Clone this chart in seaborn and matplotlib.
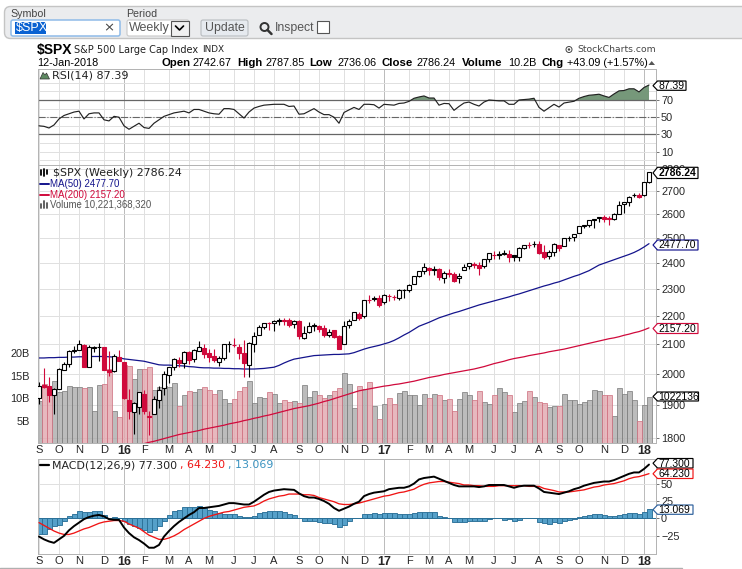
import numpy as np
import matplotlib
matplotlib.use("Agg")
import matplotlib.pyplot as plt
from matplotlib.patches import FancyBboxPatch, Rectangle, Polygon, Circle
from matplotlib.ticker import NullLocator, NullFormatter
import seaborn as sns

# weekly bars, 11-Sep-2015 to 12-Jan-2018
opens = [1921,1963,1961,1932,1950,2013,2033,2077,2080,2096,2024,2088,2090,2091,2013,2010,2057,
         2038,1916,1878,1894,1936,1864,1871,1917,1954,1996,2023,2047,2037,2073,2050,2078,2087,2071,2058,2041,2052,2100,2097,2091,2069,2030,
         2099,2131,2162,2173,2173,2183,2183,2187,2170,2181,2120,2143,2164,2164,2157,2133,2148,2128,2100,2168,2186,2206,2200,2258,2266,2266,
         2251,2273,2269,2267,2294,2295,2319,2350,2367,2381,2371,2378,2341,2362,2357,2342,2374,2388,2396,2393,2387,2414,2431,2434,2437,2437,
         2431,2424,2460,2473,2476,2478,2444,2428,2444,2474,2470,2502,2503,2521,2551,2555,2578,2583,2588,2584,2579,2603,2645,2652,2685,2684,
         2683,2742.67]
highs = [1975,2021,1989,1953,2021,2039,2079,2094,2116,2099,2097,2094,2104,2091,2076,2067,2081,
         2038,1950,1908,1940,1947,1881,1930,1962,2009,2024,2052,2056,2075,2076,2083,2111,2099,2083,2084,2058,2100,2110,2120,2100,2113,2108,
         2143,2169,2175,2177,2187,2193,2193,2193,2187,2187,2163,2179,2175,2169,2169,2153,2151,2131,2182,2189,2213,2214,2259,2277,2273,2278,
         2282,2279,2276,2300,2299,2319,2351,2367,2400,2383,2390,2382,2370,2378,2366,2361,2398,2400,2403,2405,2416,2440,2446,2446,2453,2450,
         2432,2463,2473,2484,2490,2490,2474,2454,2480,2474,2500,2508,2519,2552,2555,2575,2582,2588,2597,2593,2604,2657,2651,2679,2694,2692,
         2743,2787.85]
lows = [1903,1953,1908,1872,1950,2013,2022,2070,2080,2022,2024,2073,2042,2012,1993,2005,2043,
        1918,1857,1812,1872,1872,1810,1871,1891,1931,1969,2012,2022,2021,2033,2039,2078,2052,2039,2039,2025,2047,2074,2090,2050,1991,1991,
        2074,2131,2154,2148,2147,2169,2168,2160,2157,2119,2119,2139,2145,2142,2124,2125,2122,2083,2100,2156,2186,2187,2191,2248,2253,2233,
        2245,2254,2258,2257,2267,2289,2319,2344,2358,2354,2354,2335,2322,2344,2328,2322,2374,2378,2381,2353,2382,2405,2415,2415,2430,2405,
        2407,2407,2455,2459,2465,2437,2417,2417,2428,2446,2470,2488,2488,2521,2542,2547,2544,2566,2566,2557,2575,2600,2605,2637,2676,2673,
        2682,2736.06]
closes = [1961.05,1958.03,1931.34,1951.36,2014.89,2033.11,2075.15,2079.36,2099.20,2023.04,2089.17,2090.11,2091.69,2012.37,2005.55,2060.99,2043.94,
          1922.03,1880.33,1906.90,1940.24,1880.05,1864.78,1917.78,1948.05,1999.99,2022.19,2049.58,2035.94,2072.78,2047.60,2080.73,2091.58,2065.30,2057.14,2046.61,2052.32,2099.06,2099.13,2096.07,2071.22,2037.41,2102.95,
          2129.90,2161.74,2175.03,2173.60,2182.87,2184.05,2183.87,2169.04,2179.98,2127.81,2139.16,2164.69,2168.27,2153.74,2132.98,2141.16,2126.41,2085.18,2164.45,2181.90,2213.35,2191.95,2259.53,2258.07,2263.79,2238.83,
          2276.98,2274.64,2271.31,2294.69,2297.42,2316.10,2351.16,2367.34,2383.12,2372.60,2378.25,2343.98,2362.72,2355.54,2328.95,2348.69,2384.20,2399.29,2390.90,2381.73,2415.82,2439.07,2431.77,2433.15,2438.30,2423.41,
          2425.18,2459.27,2472.54,2472.10,2476.83,2441.32,2425.55,2443.05,2476.55,2461.43,2500.23,2502.22,2519.36,2549.33,2553.17,2575.21,2581.07,2587.84,2582.30,2578.85,2602.42,2642.22,2651.50,2675.81,2683.34,2673.61,
          2743.15,2786.24]
volume_b = [9.3,13.2,12.3,13.8,11.3,11.7,12.7,12.6,12.5,12.3,12.5,7.2,13.0,13.2,16.4,7.2,5.8,
            17.3,17.1,14.3,16.4,16.5,17.0,11.8,12.6,12.8,12.6,13.4,8.3,10.8,11.5,11.4,12.0,12.5,11.9,11.0,11.8,9.9,8.9,9.8,11.6,12.5,13.9,
            8.9,10.3,10.0,11.4,10.9,8.9,9.6,9.2,9.4,8.9,13.0,10.3,11.5,10.6,10.1,10.6,11.7,12.3,15.6,13.2,7.7,12.8,12.0,13.7,8.3,5.4,
            8.8,10.0,8.8,11.2,11.7,10.6,10.8,8.5,11.0,10.0,10.9,10.6,9.7,9.8,7.2,9.8,11.4,10.7,9.7,11.5,9.2,8.8,10.8,12.3,11.3,10.6,
            7.0,8.9,9.4,11.5,10.3,9.2,9.0,8.0,8.3,8.3,11.0,9.7,9.7,8.7,9.2,9.6,11.8,11.5,10.8,10.8,6.0,12.3,11.0,11.6,9.7,5.0,
            8.5,10.2]
ma50 = [2053,2053,2054,2054,2055,2055,2056,2056,2057,2057,2058,2058,2058,2058,2057,2056,2054,
        2050,2048,2046,2044,2042,2038,2034,2030,2029,2029,2028,2027,2026,2024,2023,2021,2020,2020,2019,2019,2018,2018,2017,2017,2016,2016,
        2016,2017,2018,2020,2022,2028,2036,2043,2049,2052,2055,2058,2061,2062,2063,2064,2065,2065,2066,2067,2071,2077,2083,2088,2092,2096,
        2101,2106,2113,2122,2132,2141,2152,2163,2170,2177,2185,2193,2199,2205,2211,2216,2222,2228,2234,2240,2245,2250,2255,2260,2265,2270,
        2276,2281,2287,2293,2299,2305,2311,2316,2322,2327,2334,2341,2348,2354,2362,2370,2381,2392,2399,2406,2413,2420,2427,2434,2442,2452,
        2464,2477.7]
ma200 = [np.nan]*21 + [1783,1787,1790,1794,1798,1802,1806,1810,1813,1816,1819,1822,1826,1829,1832,1835,1838,1842,1845,1848,1852,1855,
         1859,1862,1866,1869,1873,1877,1881,1885,1889,1892,1895,1898,1902,1906,1911,1915,1920,1925,1930,1935,1940,1945,1948,1951,1954,1957,
         1960,1962,1965,1967,1970,1973,1976,1980,1984,1988,1991,1994,1998,2001,2004,2007,2010,2013,2016,2020,2024,2029,2034,2038,2042,2047,
         2051,2054,2057,2061,2064,2067,2070,2074,2077,2080,2083,2087,2091,2095,2099,2103,2107,2111,2115,2119,2122,2126,2131,2135,2140,2144,
         2150,2157.2]
rsi = [40,39.4,37.5,41,48,52,54,56,57,48,54,55,55,47,45.7,51,50,40,36,39.5,43,38,37,43,47,51,53,55,56,57,55,59,59,57,55,54,53.5,60,60,59,54,49,56,
       60.6,62.5,64,64.5,65,65,65,62.5,63,53.5,54,57,60,56,53,53,50,43,55.5,58.5,61.4,59,65,65,64.5,60.6,65,64.5,64,66,66.5,68.4,72,73.5,74.7,72.3,72.3,64,66,65.7,58,62.5,66.5,67.6,65,63,67.6,70,69.5,69,69,65,
       65,70,70.5,71,72,61.4,57,61,65,61.8,66.5,67.5,68.5,72,74,75.5,76,76.7,74.7,73,77,80.6,81,83,83,79.4,84.5,87.39]
macd = [-26,-30,-33,-35,-30,-25,-17,-11,-6,-1,2,4,5,3,-1,-2,-2,-13,-21,-27,-31,-36,-42,-42,-38,-26,-18,-11,-5,0,5,9,15,15,16,17,18,20,22,22,21,20,20,
        24,29,34,38,40,41,42,41.5,41,36,32,30,30,28,25,21,15,11,14,17,21,24,32,35,37,38,39,42,43,44,44,46,50,56,58,59,60,57,54,51,48,46,46,46,46,45,46,48,48,48,48,46,
        44,46,47,47,47,43,38,37,36,35,37,39,42,44,47,49,51,52,53,53,55,58,61,64,66,66,71,77.3]
signal = [-6,-10,-14,-18,-21,-23,-23,-21,-18,-15,-13,-10,-7,-5,-4,-3,-3,-4,-8,-11,-14,-19,-24,-27,-30,-30,-28,-25,-21,-16,-12,-8,-4,0,3,5,7,9,10,12,14,16,17,
          18,21,25,28,30,32,33,35,35,35,34,34,33,30,28,26,24,21,20,20,21,22,24,26,28,30,32,33,35,37,38,40,42,46,49,51,52,53,53,52,51,50,48,48,47,47,46,46,46,47,47,47,
          47,47,47,46,46,46,43,41.5,40,38,38,38,39,40,41,43,45,46,48,49,50,52,54,57,59,60,62,64.23]
hist = [-22,-22,-15,-11.5,-9,-3,3,7,10.5,8.6,9.6,10.5,10.5,4.8,1,2,0,-4,-8,-11.5,-14,-16,-19,-17,-11.5,-3,5,10,12.5,16,17,17,18,15,12.5,10,7.7,6.7,6,6,3.8,2,2.4,
        3,8,9,10.5,11,10,9,7,5,0,-3,-3.3,-3.3,-5,-6,-7,-8,-12,-9,-4,0,0,6,7,8,7,8,8,7.5,7,6,7,8,9.5,9.5,9.5,9,4,2.5,1,-5,-5,-4.5,-4,-4,-4,-3,-0.5,0,0,-2,-1,
        -3.5,-2,0,0,0,-5,-7,-8,-5,-6,-4,-2.5,-1,2.5,4,5,6.5,6.5,5,3.5,3.5,5,6.5,8,8,6.5,9.5,13.07]

month_idx = [0,4,8,13,17,21,26,30,34,39,43,47,52,56,61,65,69,74,78,82,86,91,95,100,104,108,113,117,121]
month_lab = ['S','O','N','D','16','F','M','A','M','J','J','A','S','O','N','D','17','F','M','A','M','J','J','A','S','O','N','D','18']
year_lab = ['16','17','18']

rsi_ticks = [70,50,30,10]
price_ticks = [2800,2700,2600,2500,2400,2300,2200,2100,2000,1900,1800]
vol_ticks = [5,10,15,20]
vol_tick_lab = ['5B','10B','15B','20B']
macd_ticks = [50,25,0,-25]

GRID = '#e0e0e0'
YEAR = '#bcbcbc'
BORDER = '#b4b4b4'
RED = '#d00a3c'
NAVY = '#14148c'
PX = 0.72  # one pixel, in points

sns.set_style('white')
plt.rcParams['font.family'] = ['Liberation Sans', 'DejaVu Sans']
plt.rcParams['axes.linewidth'] = PX
plt.rcParams['axes.edgecolor'] = BORDER

W, H = 742, 569
fig = plt.figure(figsize=(W/100, H/100), dpi=100, facecolor='white')
idx = np.arange(len(closes))


def panel(top, bottom, z=1):
    return fig.add_axes([37.5/W, 1-bottom/H, 618/W, (bottom-top)/H], zorder=z)


def style_x(ax, labels=True):
    ax.set_xlim(-0.3, 123.3)
    ax.set_xticks(month_idx)
    ax.set_xticklabels(month_lab if labels else [])
    ax.tick_params(axis='x', length=0, pad=1.5, labelsize=8, bottom=labels)
    ax.grid(True, axis='x', color=GRID, lw=PX)
    for line, lab in zip(ax.get_xgridlines(), month_lab):
        if lab in year_lab:
            line.set_color(YEAR)
    if labels:
        for t in ax.get_xticklabels():
            if t.get_text() in year_lab:
                t.set_fontweight('bold')
                t.set_fontsize(9)


def style_y(ax, ticks):
    ax.yaxis.tick_right()
    ax.set_yticks(ticks)
    ax.tick_params(axis='y', which='major', right=True, length=2.5, width=PX, color='#777777', pad=1.5, labelsize=7.8)
    ax.grid(True, axis='y', color=GRID, lw=PX)
    ax.set_xlabel('')
    ax.set_ylabel('')


# RSI
ax_rsi = panel(69, 165)
style_x(ax_rsi, labels=False)
ax_rsi.set_ylim(-5.5, 106)
style_y(ax_rsi, rsi_ticks)
ax_rsi.set_yticks([0,20,40,60,80,90], minor=True)
ax_rsi.grid(True, axis='y', which='minor', color=GRID, lw=PX)
ax_rsi.tick_params(axis='y', which='minor', length=0)
rsi_arr = np.array(rsi)
ax_rsi.fill_between(idx, 70, rsi_arr, where=rsi_arr > 70, interpolate=True, color='#76987a', lw=0, zorder=2)
ax_rsi.axhline(70, color='#666666', lw=0.9, zorder=2.5)
ax_rsi.axhline(30, color='#666666', lw=0.9, zorder=2.5)
ax_rsi.axhline(50, color='#666666', lw=0.8, ls='-.', zorder=2.5)
sns.lineplot(x=idx, y=rsi, ax=ax_rsi, color='#222222', lw=0.85, estimator=None, errorbar=None, zorder=3)
style_y(ax_rsi, rsi_ticks)

# price panel: grid at the back, volume in the middle, candles on top
ax_grid = panel(165, 443, z=1)
ax_grid.set_yscale('log')
ax_grid.set_ylim(1785, 2820)
ax_grid.yaxis.set_minor_locator(NullLocator())
ax_grid.yaxis.set_minor_formatter(NullFormatter())
style_x(ax_grid)
style_y(ax_grid, price_ticks)
ax_grid.set_yticklabels([str(p) for p in price_ticks])

ax_vol = panel(165, 443, z=2)
ax_vol.patch.set_visible(False)
vol_arr = np.array(volume_b)
down = np.array([False] + [closes[i] < closes[i-1] for i in range(1, len(closes))])
sns.barplot(x=idx[~down], y=vol_arr[~down], ax=ax_vol, native_scale=True, width=1, color='#ababab',
            saturation=1, edgecolor='#7c7c7c', linewidth=0.65, alpha=0.8, errorbar=None)
sns.barplot(x=idx[down], y=vol_arr[down], ax=ax_vol, native_scale=True, width=1, color='#e2a7ae',
            saturation=1, edgecolor='#cf7080', linewidth=0.65, alpha=0.8, errorbar=None)
ax_vol.set_xlim(-0.3, 123.3)
ax_vol.set_xticks([])
ax_vol.set_ylim(0, 62)
ax_vol.set_yticks(vol_ticks)
ax_vol.set_yticklabels(vol_tick_lab)
ax_vol.tick_params(axis='y', left=False, pad=2, labelsize=7.8)
ax_vol.set_xlabel('')
ax_vol.set_ylabel('')

ax_px = panel(165, 443, z=3)
ax_px.patch.set_visible(False)
ax_px.set_yscale('log')
sns.lineplot(x=idx, y=ma50, ax=ax_px, color=NAVY, lw=0.9, estimator=None, errorbar=None)
sns.lineplot(x=idx, y=ma200, ax=ax_px, color=RED, lw=0.9, estimator=None, errorbar=None)
o, h, l, c = map(np.array, (opens, highs, lows, closes))
cols = np.where(down, RED, 'black')
body_face = np.where(c >= o, 'white', cols)
ax_px.vlines(idx, l, h, colors=cols, lw=0.8, zorder=4)
ax_px.bar(idx, np.abs(c-o), bottom=np.minimum(o, c), width=0.66, color=body_face, edgecolor=cols, lw=0.8, zorder=5)
ax_px.set_xlim(-0.3, 123.3)
ax_px.set_ylim(1785, 2820)
ax_px.set_xticks([])
ax_px.set_yticks([])
ax_px.yaxis.set_minor_locator(NullLocator())
ax_px.set_xlabel('')
ax_px.set_ylabel('')

# MACD
ax_macd = panel(458.5, 554)
style_x(ax_macd)
ax_macd.set_ylim(-51, 86)
style_y(ax_macd, macd_ticks)
hist_arr = np.array(hist)
sns.barplot(x=idx, y=hist_arr, ax=ax_macd, native_scale=True, width=1, color='#55a0c9', saturation=1,
            edgecolor='#2c7198', linewidth=0.65, errorbar=None, zorder=2)
ax_macd.axhline(0, color='#2c7198', lw=PX, zorder=2.5)
sns.lineplot(x=idx, y=signal, ax=ax_macd, color='#f01414', lw=0.95, estimator=None, errorbar=None, zorder=3)
sns.lineplot(x=idx, y=macd, ax=ax_macd, color='black', lw=1.4, estimator=None, errorbar=None, zorder=4)
style_x(ax_macd)
style_y(ax_macd, macd_ticks)
ax_macd.set_ylim(-51, 86)

# page furniture and labels, in pixels
ui = fig.add_axes([0, 0, 1, 1], zorder=10)
ui.set_xlim(0, W)
ui.set_ylim(H, 0)
ui.axis('off')


def txt(x, y, s, size=8, color='black', weight='normal', ha='left', family=None):
    ui.text(x, y, s, fontsize=size, color=color, fontweight=weight, ha=ha, va='center',
            family=family or 'Liberation Sans')


def tag(y0, y1, right, s, edge, weight='normal'):
    ym = (y0+y1)/2
    ui.add_patch(Polygon([(653, ym), (657.5, y0), (right, y0), (right, y1), (657.5, y1)], closed=True,
                         fc='white', ec=edge, lw=0.85))
    txt(658.5, ym+0.3, s, size=7.5, weight=weight)


ui.add_patch(FancyBboxPatch((4.5, 6.5), 760, 32, boxstyle='round,pad=0,rounding_size=6', fc='#ebecee', ec='#c4c4c4', lw=1))
txt(10, 13.5, 'Symbol', size=7.7, color='#444444')
txt(126, 13.5, 'Period', size=7.7, color='#444444')
ui.add_patch(FancyBboxPatch((11, 20), 109, 16, boxstyle='round,pad=0,rounding_size=2', fc='white', ec='#8fbbe8', lw=1.1))
ui.add_patch(Rectangle((15, 22), 31, 12, fc='#0a62d2', ec='none'))
txt(15.5, 28, '$SPX', size=9, color='white')
txt(109, 28, '×', size=9.5, color='#444444', ha='center', family='DejaVu Sans')
ui.add_patch(FancyBboxPatch((127, 20), 62, 16, boxstyle='round,pad=0,rounding_size=2', fc='white', ec='#c8c8c8', lw=0.8))
txt(129, 28, 'Weekly', size=9, color='#555555')
ui.add_patch(Rectangle((170.5, 20.5), 18, 15, fc='#f0f0f0', ec='#555555', lw=0.8))
ui.plot([175.5, 179.5, 183.5], [26, 30, 26], color='black', lw=1.2)
ui.add_patch(FancyBboxPatch((201, 20), 47, 16, boxstyle='round,pad=0,rounding_size=2', fc='#e6eaef', ec='#b8bcc0', lw=0.8))
txt(224.5, 28, 'Update', size=8.8, color='#555555', ha='center')
ui.add_patch(Circle((264.5, 27), 4, fc='none', ec='#333333', lw=1.4))
ui.plot([267.5, 271.5], [30, 34], color='#333333', lw=1.8)
txt(275, 28, 'Inspect', size=8.8, color='#555555')
ui.add_patch(Rectangle((316.5, 21), 12, 12, fc='white', ec='#555555', lw=0.8))

txt(37, 49.5, '$SPX', size=10, weight='bold')
txt(74.5, 49.5, 'S&P 500 Large Cap Index', size=7, family='DejaVu Sans', color='#222222')
txt(202, 49.5, 'INDX', size=6.4, family='DejaVu Sans', color='#222222')
txt(655.5, 49.5, 'StockCharts.com', size=6.7, family='DejaVu Sans', color='#444444', ha='right')
ui.add_patch(Circle((569, 49.5), 3, fc='none', ec='#444444', lw=0.7))
ui.add_patch(Circle((569, 49.5), 1.2, fc='#444444', ec='none'))

txt(37, 62.5, '12-Jan-2018', size=7.8)
for x, s, w in [(161, 'Open', 'bold'), (192.7, '2742.67', 'normal'), (237, 'High', 'bold'), (265, '2787.85', 'normal'),
                (309, 'Low', 'bold'), (337, '2736.06', 'normal'), (381.7, 'Close', 'bold'), (416.7, '2786.24', 'normal'),
                (461.7, 'Volume', 'bold'), (508, '10.2B', 'normal'), (541.7, 'Chg', 'bold'), (566.7, '+43.09 (+1.57%)', 'normal')]:
    txt(x, 62.5, s, size=8.2 if w == 'bold' else 7.8, weight=w)
ui.add_patch(Polygon([(648.5, 65), (655, 65), (651.7, 61)], closed=True, fc='#555555', ec='none'))

# panel legends
ui.add_patch(Polygon([(40, 79), (43, 72.5), (45, 75), (46.5, 73), (49.5, 79)], closed=True, fc='#5e8a62', ec='#333333', lw=0.5))
txt(52.5, 75.5, 'RSI(14) 87.39', size=8, family='DejaVu Sans', color='#222222')
for x, y0, y1 in [(41, 170, 175), (44, 169, 176), (47, 170, 174)]:
    ui.plot([x, x], [y0, y1], color='black', lw=1.3)
txt(53, 172.5, '$SPX (Weekly) 2786.24', size=7.9, family='DejaVu Sans', color='#222222')
ui.plot([40, 49], [183.5, 183.5], color=NAVY, lw=1.4)
txt(50.5, 183.5, 'MA(50) 2477.70', size=7, color=NAVY)
ui.plot([40, 49], [194.5, 194.5], color=RED, lw=1.4)
txt(50.5, 194.5, 'MA(200) 2157.20', size=7, color=RED)
for x, y0 in [(41, 204), (44, 201), (47, 203)]:
    ui.plot([x, x], [y0, 208], color='#555555', lw=1.3)
txt(50.5, 204.5, 'Volume 10,221,368,320', size=6.9, color='#555555')
ui.plot([40, 49], [465, 465], color='black', lw=1.6)
txt(52.5, 465, 'MACD(12,26,9) 77.300', size=7.9, family='DejaVu Sans', color='#222222')
txt(179.5, 465, ', 64.230', size=7.9, family='DejaVu Sans', color='#f01414')
txt(227.5, 465, ', 13.069', size=7.9, family='DejaVu Sans', color='#3b93c0')

# value tags on the right
tag(81, 90.3, 686, '87.39', 'black')
tag(167.3, 178.5, 698, '2786.24', 'black', weight='bold')
tag(240, 250, 698, '2477.70', NAVY)
tag(323.5, 333.5, 698, '2157.20', RED)
tag(392, 401, 698.5, '1022136', 'black')
tag(458.5, 468, 693, '77.300', 'black')
tag(469, 478.5, 693, '64.230', '#f01414')
tag(505, 514.3, 693, '13.069', '#2c5f9c')

ui.plot([0, 682], [568, 568], color='#b0b0b0', lw=1)

fig.savefig('out.png', dpi=100, facecolor='white')
